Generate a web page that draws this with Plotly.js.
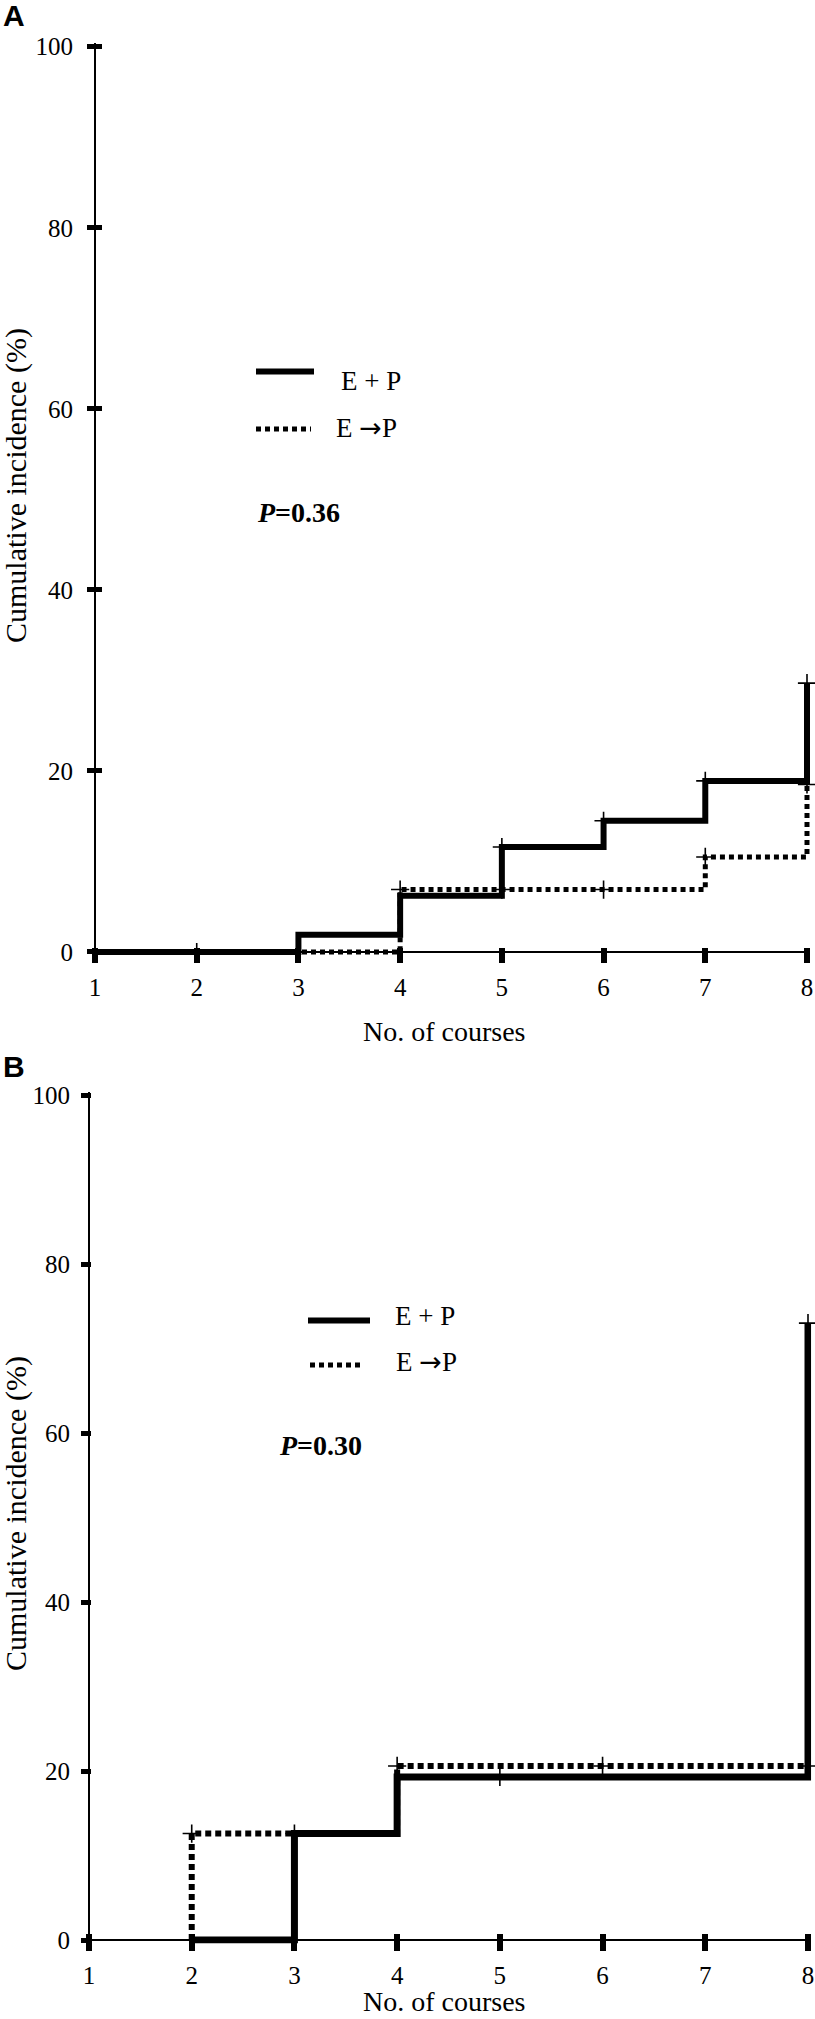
<!DOCTYPE html>
<html><head><meta charset="utf-8">
<script src="https://cdn.plot.ly/plotly-3.0.1.min.js"></script>
<style>html,body{margin:0;padding:0;background:#fff;}#chart{width:815px;height:2019px;}</style>
</head><body><div id="chart"></div>
<script>
// ---------- data ----------
const courseTicks = [1,2,3,4,5,6,7,8];
const yTicks = [0,20,40,60,80,100];

// Panel A
const aCombX = [1,3,4,5,6,7,8];
const aCombY = [0,1.9,6.2,11.6,14.5,18.9,29.7];
const aSeqX = [1,4,7,8];
const aSeqY = [0,6.9,10.5,18.5];
const aCombCensX = [2,5,6,7,8];
const aCombCensY = [0,11.6,14.5,18.9,29.7];
const aSeqCensX = [4,5,6,7,8];
const aSeqCensY = [6.9,6.9,6.9,10.5,18.5];

// Panel B
const bCombX = [2,3,4,8];
const bCombY = [0,12.6,19.3,73];
const bSeqX = [2,2,4,8];
const bSeqY = [0,12.6,20.6,20.6];
const bCombCensX = [5,8];
const bCombCensY = [19.3,73];
const bSeqCensX = [2,3,4,6,8];
const bSeqCensY = [12.6,12.6,20.6,20.6,20.6];

const seriesNames = ['E + P', 'E <span style="font-family:DejaVu Sans">\u2192</span>P'];
const pValues = ['0.36', '0.30'];
const panelLabels = ['A', 'B'];
const xTitle = 'No. of courses';
const yTitle = 'Cumulative incidence (%)';

// ---------- layout helpers ----------
const W = 815, H = 2019;
const px = x => x / W;
const py = y => 1 - y / H;
const SERIF = 'Liberation Serif, Times New Roman, serif';

function domainFrom(p0, p1, v0, v1, r0, r1) {
  const k = (p1 - p0) / (v1 - v0);
  return [p0 - (v0 - r0) * k, p1 + (r1 - v1) * k];
}

// panel geometry (pixels)
const panels = [
  {x1px: 95, x8px: 807, y0px: 952, y100px: 46.7, ytl: 7, ystand: 9, yin: 6, xin: 4},
  {x1px: 89, x8px: 808, y0px: 1940, y100px: 1095, ytl: 7, ystand: 6, yin: 1, xin: 6}
];
const xr = [0.97, 8.03], yr = [-0.4, 100.4];

const layout = {
  width: W, height: H,
  margin: {l: 0, r: 0, t: 0, b: 0},
  paper_bgcolor: '#fff', plot_bgcolor: 'rgba(0,0,0,0)',
  showlegend: false,
  font: {family: SERIF, color: '#000'},
  annotations: [], shapes: []
};

const overlayAxes = [];
panels.forEach((p, i) => {
  const sfx = i === 0 ? '' : '2';
  const osfx = i === 0 ? '3' : '4';
  const xd = domainFrom(p.x1px, p.x8px, 1, 8, xr[0], xr[1]);
  const yd = domainFrom(p.y0px, p.y100px, 0, 100, yr[0], yr[1]);
  const xDom = [px(xd[0]), px(xd[1])], yDom = [py(yd[0]), py(yd[1])];
  const xPos = py(p.y0px), yPos = px(p.x1px);
  layout['xaxis' + sfx] = {
    domain: xDom, range: xr, anchor: 'free', position: xPos,
    tickmode: 'array', tickvals: courseTicks, ticktext: courseTicks.map(String),
    ticks: 'outside', ticklen: 10, tickwidth: 6, tickcolor: '#000',
    showline: true, linewidth: 2, linecolor: '#000', showgrid: false, zeroline: false,
    tickfont: {family: SERIF, size: 25, color: '#000'}, ticklabelstandoff: 3, fixedrange: true
  };
  layout['yaxis' + sfx] = {
    domain: yDom, range: yr, anchor: 'free', position: yPos,
    tickmode: 'array', tickvals: yTicks, ticktext: yTicks.map(String),
    ticks: 'outside', ticklen: p.ytl, tickwidth: 5, tickcolor: '#000',
    showline: true, linewidth: 2, linecolor: '#000', showgrid: false, zeroline: false,
    tickfont: {family: SERIF, size: 25, color: '#000'}, ticklabelstandoff: p.ystand, fixedrange: true
  };
  // overlay axes giving the tick marks their inner half
  layout['xaxis' + osfx] = {
    domain: xDom, range: xr, anchor: 'free', position: xPos, overlaying: 'x' + sfx,
    tickmode: 'array', tickvals: courseTicks, ticks: 'inside', ticklen: p.xin, tickwidth: 6,
    tickcolor: '#000', showticklabels: false, showline: false, showgrid: false, zeroline: false, fixedrange: true
  };
  layout['yaxis' + osfx] = {
    domain: yDom, range: yr, anchor: 'free', position: yPos, overlaying: 'y' + sfx,
    tickmode: 'array', tickvals: yTicks, ticks: 'inside', ticklen: p.yin, tickwidth: 5,
    tickcolor: '#000', showticklabels: false, showline: false, showgrid: false, zeroline: false, fixedrange: true
  };
  overlayAxes.push(['x' + osfx, 'y' + osfx]);
});

// text annotations
const ann = (x, y, text, opts) => Object.assign({
  xref: 'paper', yref: 'paper', x: px(x), y: py(y), text: text, showarrow: false,
  xanchor: 'left', yanchor: 'middle', font: {family: SERIF, size: 27, color: '#000'}
}, opts || {});

const legendPos = [
  {sx0: 256, sx1: 314, sy: 371.5, tx: 339, ty: 381, dx0: 256, dx1: 311, dy: 429, t2x: 334, t2y: 427, px: 255, py: 512},
  {sx0: 308, sx1: 370, sy: 1320.5, tx: 393, ty: 1316, dx0: 310, dx1: 364, dy: 1365, t2x: 394, t2y: 1361, px: 277, py: 1445}
];
const titlePos = [
  {lx: 14, ly: 16, ytx: 16, yty: 486, xtx: 445, xty: 1031},
  {lx: 14, ly: 1066, ytx: 16, yty: 1514, xtx: 445, xty: 2001}
];

legendPos.forEach((L, i) => {
  layout.shapes.push({type: 'line', xref: 'paper', yref: 'paper',
    x0: px(L.sx0), x1: px(L.sx1), y0: py(L.sy), y1: py(L.sy), line: {color: '#000', width: 6}});
  layout.shapes.push({type: 'line', xref: 'paper', yref: 'paper',
    x0: px(L.dx0), x1: px(L.dx1), y0: py(L.dy), y1: py(L.dy), line: {color: '#000', width: 5, dash: '5px,4px'}});
  layout.annotations.push(ann(L.tx, L.ty, seriesNames[0]));
  layout.annotations.push(ann(L.t2x, L.t2y, seriesNames[1]));
  layout.annotations.push(ann(L.px, L.py, '<b><i>P</i>=' + pValues[i] + '</b>', {font: {family: SERIF, size: 28, color: '#000'}}));
  const T = titlePos[i];
  layout.annotations.push(ann(T.lx, T.ly, '<b>' + panelLabels[i] + '</b>',
    {xanchor: 'center', font: {family: 'Liberation Sans Narrow, Liberation Sans, Arial, sans-serif', size: 30, color: '#000'}}));
  layout.annotations.push(ann(T.ytx, T.yty, yTitle, {xanchor: 'center', textangle: -90, font: {family: SERIF, size: 30, color: '#000'}}));
  layout.annotations.push(ann(T.xtx, T.xty, xTitle, {xanchor: 'center', font: {family: SERIF, size: 28, color: '#000'}}));
});

// ---------- traces ----------
function stepTrace(x, y, ax, dash, width) {
  return {x: x, y: y, xaxis: ax[0], yaxis: ax[1], mode: 'lines', type: 'scatter',
    line: {shape: 'hv', color: '#000', width: width, dash: dash}, hoverinfo: 'skip'};
}
function censTrace(x, y, ax) {
  return {x: x, y: y, xaxis: ax[0], yaxis: ax[1], mode: 'markers', type: 'scatter', cliponaxis: false,
    marker: {symbol: 'cross-thin', size: 13, color: '#000', line: {color: '#000', width: 1.6}}, hoverinfo: 'skip'};
}
const axA = ['x', 'y'], axB = ['x2', 'y2'];
const data = [
  stepTrace(aSeqX, aSeqY, axA, '5px,4px', 5),
  stepTrace(aCombX, aCombY, axA, 'solid', 6),
  censTrace(aCombCensX, aCombCensY, axA),
  censTrace(aSeqCensX, aSeqCensY, axA),
  stepTrace(bSeqX, bSeqY, axB, '6px,4px', 6),
  stepTrace(bCombX, bCombY, axB, 'solid', 7),
  censTrace(bCombCensX, bCombCensY, axB),
  censTrace(bSeqCensX, bSeqCensY, axB)
];
data[0].name = 'E \u2192P'; data[1].name = 'E + P';
data[4].name = 'E \u2192P'; data[5].name = 'E + P';
// empty traces so the overlay (tick-only) axes are drawn
overlayAxes.forEach(ax => data.push({x: [], y: [], xaxis: ax[0], yaxis: ax[1], type: 'scatter', mode: 'lines', hoverinfo: 'skip'}));

Plotly.newPlot('chart', data, layout, {displayModeBar: false, staticPlot: true});
</script>
</body></html>
